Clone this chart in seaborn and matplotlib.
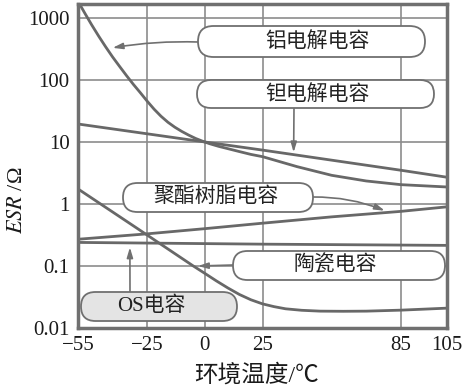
import matplotlib
matplotlib.use("Agg")
import matplotlib.pyplot as plt
import seaborn as sns
import pandas as pd
from matplotlib.patches import FancyBboxPatch
from matplotlib.ticker import NullLocator

# ESR vs temperature
al_temp = [-55, -52, -49, -46, -43, -40, -37, -34, -31, -28, -25, -22, -19, -16, -13,
           -10, -7, -4, -1, 2, 6, 10, 15, 20, 25, 40, 55, 70, 85, 105]
al_esr = [1860, 1186, 767, 507, 342, 235, 166, 118, 85, 62.5, 45.5, 33.8, 26, 20.8, 17.3,
          14.8, 12.9, 11.4, 10.3, 9.4, 8.5, 7.8, 7.0, 6.3, 5.8, 4.0, 2.9, 2.35, 2.05, 1.88]

ta_temp = [-55, 0, 25, 85, 105]
ta_esr = [19.5, 10, 7.4, 3.5, 2.7]

poly_temp = [-55, -25, 0, 25, 55, 85, 105]
poly_esr = [0.27, 0.33, 0.4, 0.49, 0.62, 0.76, 0.9]

cer_temp = [-55, 25, 105]
cer_esr = [0.24, 0.225, 0.215]

os_temp = [-55, -30, -5, 0, 5, 10, 15, 20, 25, 30, 35, 42, 50, 60, 70, 85, 105]
os_esr = [1.75, 0.42, 0.1, 0.076, 0.0575, 0.0442, 0.0347, 0.0285, 0.0245, 0.0221, 0.0204,
          0.0193, 0.0187, 0.0186, 0.0187, 0.0194, 0.0209]

xticks = [-55, -25, 0, 25, 85, 105]
xtick_labels = ["\u221255", "\u221225", "0", "25", "85", "105"]
yticks = [0.01, 0.1, 1, 10, 100, 1000]
ytick_labels = ["0.01", "0.1", "1", "10", "100", "1000"]

df = pd.concat([
    pd.DataFrame({"temp": al_temp, "esr": al_esr, "cap": "al"}),
    pd.DataFrame({"temp": ta_temp, "esr": ta_esr, "cap": "ta"}),
    pd.DataFrame({"temp": poly_temp, "esr": poly_esr, "cap": "poly"}),
    pd.DataFrame({"temp": cer_temp, "esr": cer_esr, "cap": "cer"}),
    pd.DataFrame({"temp": os_temp, "esr": os_esr, "cap": "os"}),
])

sns.set_theme(style="white")
plt.rcParams["font.family"] = ["Liberation Serif", "Noto Sans CJK SC", "DejaVu Sans"]
plt.rcParams["mathtext.fontset"] = "stix"

W, H = 463, 389
fig = plt.figure(figsize=(W / 100, H / 100), dpi=100)
ax = fig.add_axes([78 / W, 1 - 328 / H, (447 - 78) / W, (328 - 4) / H])

line_c = "#686868"
sns.lineplot(data=df, x="temp", y="esr", units="cap", estimator=None,
             color=line_c, lw=2, ax=ax, sort=False)

ax.set_yscale("log")
ax.set_xlim(-55, 105)
ax.set_ylim(0.01, 1680)
ax.set_xticks(xticks)
ax.set_xticklabels(xtick_labels, fontfamily="Liberation Serif")
ax.set_yticks(yticks)
ax.set_yticklabels(ytick_labels, fontfamily="Liberation Serif")
ax.yaxis.set_minor_locator(NullLocator())
ax.tick_params(length=0, labelsize=15, colors="#1a1a1a", pad=6)
ax.grid(True, color="#8c8c8c", lw=1.2)
ax.set_axisbelow(True)
for s in ax.spines.values():
    s.set_color("#707070")
    s.set_linewidth(2.5)
ax.set_xlabel("")
ax.set_ylabel("")

fig.text(18 / W, 1 - 200 / H, r"$ESR$ /Ω", rotation=90, ha="center", va="center",
         fontsize=16, color="#1a1a1a")
fig.text(257 / W, 1 - 375 / H, "环境温度/℃", ha="center", va="center",
         fontsize=17, color="#1a1a1a")


def px(x, y):
    return x / 100, (H - y) / 100


# label boxes: left, top, right, bottom (pixels), text centre, fill
boxes = [
    ("铝电解电容", 198, 26, 425, 57, 317, 42, "white"),
    ("钽电解电容", 197, 80, 434, 108, 317, 95, "white"),
    ("聚酯树脂电容", 123, 183, 313, 212, 216, 197, "white"),
    ("陶瓷电容", 233, 251, 445, 280, 335, 265, "white"),
    ("OS电容", 81, 292, 237, 321, 151, 306, "#e4e4e4"),
]
for txt, l, t, r, b, cx, cy, fc in boxes:
    x0, y0 = px(l, b)
    w, h = (r - l) / 100, (b - t) / 100
    p = FancyBboxPatch((x0, y0), w, h, boxstyle=f"round,pad=0,rounding_size={h / 2}",
                       transform=fig.dpi_scale_trans, fc=fc, ec="#707070", lw=1.3, zorder=5)
    fig.add_artist(p)
    fig.text(cx / W, 1 - cy / H, txt, ha="center", va="center", fontsize=15,
             color="#222222", zorder=6)

# arrows: start (figure pixels from top-left), target (data)
arrows = [
    ((198, 42), (-40, 330), 0.05),
    ((294, 108), (38.5, 6.8), 0.0),
    ((313, 197), (78, 0.78), -0.1),
    ((233, 265), (-3, 0.1), 0.0),
    ((130, 292), (-32.5, 0.2), 0.0),
]
for (sx, sy), xy, rad in arrows:
    ax.annotate("", xy=xy, xycoords="data", xytext=(sx, H - sy), textcoords="figure pixels",
                arrowprops=dict(arrowstyle="-|>,head_length=0.5,head_width=0.15",
                                color="#707070", lw=1.2, shrinkA=0, shrinkB=0,
                                connectionstyle=f"arc3,rad={rad}"))

fig.savefig("out.png", dpi=100)
